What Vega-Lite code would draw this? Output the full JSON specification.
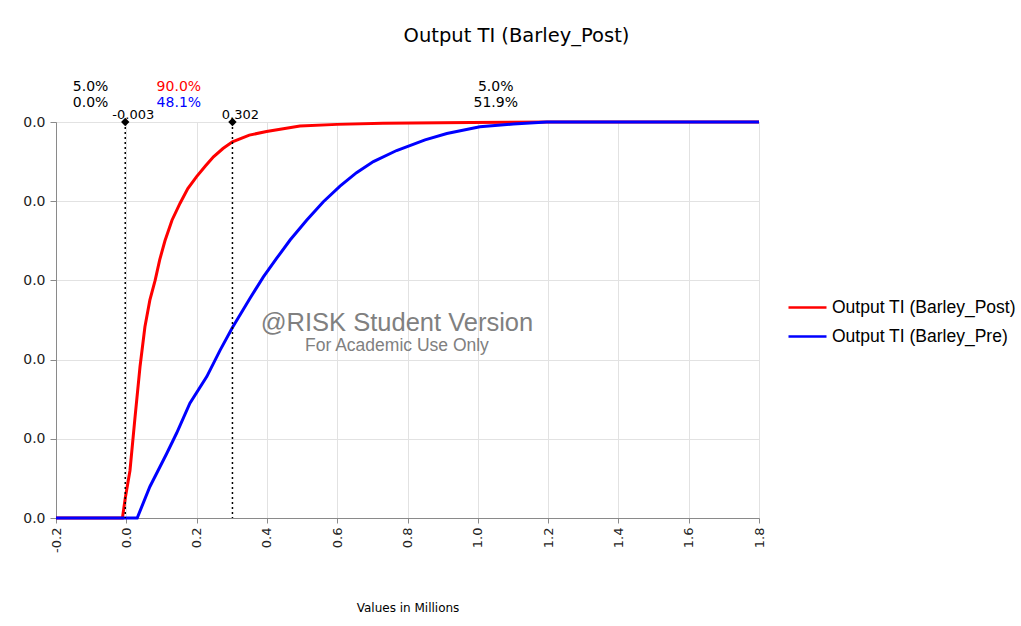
{
  "$schema": "https://vega.github.io/schema/vega-lite/v6.json",
  "width": 703,
  "height": 396,
  "autosize": {"type": "none"},
  "padding": {"left": 56, "top": 122, "right": 262, "bottom": 108},
  "background": "white",
  "title": {"text": "Output TI (Barley_Post)", "font": "DejaVu Sans", "fontSize": 19.5, "fontWeight": "normal", "color": "#000000", "anchor": "middle", "dx": 109, "offset": 34},
  "config": {
    "view": {"stroke": "#a0a0a0"},
    "axis": {"domainColor": "#8a8a8a", "tickColor": "#8a8a8a", "gridColor": "#e2e2e2", "labelFont": "DejaVu Sans", "labelFontSize": 13, "labelColor": "#222222", "titleFont": "DejaVu Sans", "titleFontSize": 12, "titleFontWeight": "normal", "titleColor": "#000000"}
  },
  "datasets": {
    "cdf": [
      {"series": "Output TI (Barley_Post)", "x": -0.2, "p": 0},
      {"series": "Output TI (Barley_Post)", "x": -0.011, "p": 0},
      {"series": "Output TI (Barley_Post)", "x": -0.003, "p": 0.05},
      {"series": "Output TI (Barley_Post)", "x": 0.0105, "p": 0.12},
      {"series": "Output TI (Barley_Post)", "x": 0.025, "p": 0.256},
      {"series": "Output TI (Barley_Post)", "x": 0.039, "p": 0.382},
      {"series": "Output TI (Barley_Post)", "x": 0.053, "p": 0.483},
      {"series": "Output TI (Barley_Post)", "x": 0.067, "p": 0.55},
      {"series": "Output TI (Barley_Post)", "x": 0.082, "p": 0.6},
      {"series": "Output TI (Barley_Post)", "x": 0.095, "p": 0.652},
      {"series": "Output TI (Barley_Post)", "x": 0.11, "p": 0.7},
      {"series": "Output TI (Barley_Post)", "x": 0.13, "p": 0.752},
      {"series": "Output TI (Barley_Post)", "x": 0.153, "p": 0.795},
      {"series": "Output TI (Barley_Post)", "x": 0.175, "p": 0.832},
      {"series": "Output TI (Barley_Post)", "x": 0.2, "p": 0.862},
      {"series": "Output TI (Barley_Post)", "x": 0.225, "p": 0.889},
      {"series": "Output TI (Barley_Post)", "x": 0.248, "p": 0.912},
      {"series": "Output TI (Barley_Post)", "x": 0.275, "p": 0.933},
      {"series": "Output TI (Barley_Post)", "x": 0.302, "p": 0.95},
      {"series": "Output TI (Barley_Post)", "x": 0.35, "p": 0.967},
      {"series": "Output TI (Barley_Post)", "x": 0.399, "p": 0.976},
      {"series": "Output TI (Barley_Post)", "x": 0.494, "p": 0.99},
      {"series": "Output TI (Barley_Post)", "x": 0.6, "p": 0.994},
      {"series": "Output TI (Barley_Post)", "x": 0.73, "p": 0.997},
      {"series": "Output TI (Barley_Post)", "x": 0.98, "p": 0.999},
      {"series": "Output TI (Barley_Post)", "x": 1.2, "p": 1},
      {"series": "Output TI (Barley_Post)", "x": 1.8, "p": 1},
      {"series": "Output TI (Barley_Pre)", "x": -0.2, "p": 0},
      {"series": "Output TI (Barley_Pre)", "x": 0.031, "p": 0},
      {"series": "Output TI (Barley_Pre)", "x": 0.067, "p": 0.079},
      {"series": "Output TI (Barley_Pre)", "x": 0.115, "p": 0.163},
      {"series": "Output TI (Barley_Pre)", "x": 0.143, "p": 0.214},
      {"series": "Output TI (Barley_Pre)", "x": 0.181, "p": 0.29},
      {"series": "Output TI (Barley_Pre)", "x": 0.229, "p": 0.357},
      {"series": "Output TI (Barley_Pre)", "x": 0.267, "p": 0.424},
      {"series": "Output TI (Barley_Pre)", "x": 0.302, "p": 0.481},
      {"series": "Output TI (Barley_Pre)", "x": 0.352, "p": 0.555},
      {"series": "Output TI (Barley_Pre)", "x": 0.39, "p": 0.609},
      {"series": "Output TI (Barley_Pre)", "x": 0.428, "p": 0.656},
      {"series": "Output TI (Barley_Pre)", "x": 0.466, "p": 0.702},
      {"series": "Output TI (Barley_Pre)", "x": 0.513, "p": 0.752},
      {"series": "Output TI (Barley_Pre)", "x": 0.56, "p": 0.798},
      {"series": "Output TI (Barley_Pre)", "x": 0.608, "p": 0.838},
      {"series": "Output TI (Barley_Pre)", "x": 0.655, "p": 0.872},
      {"series": "Output TI (Barley_Pre)", "x": 0.703, "p": 0.9},
      {"series": "Output TI (Barley_Pre)", "x": 0.769, "p": 0.928},
      {"series": "Output TI (Barley_Pre)", "x": 0.85, "p": 0.955},
      {"series": "Output TI (Barley_Pre)", "x": 0.912, "p": 0.971},
      {"series": "Output TI (Barley_Pre)", "x": 1.006, "p": 0.988},
      {"series": "Output TI (Barley_Pre)", "x": 1.101, "p": 0.995},
      {"series": "Output TI (Barley_Pre)", "x": 1.196, "p": 1},
      {"series": "Output TI (Barley_Pre)", "x": 1.8, "p": 1}
    ],
    "markers": [
      {"x": -0.003, "label": "-0.003"},
      {"x": 0.302, "label": "0.302"}
    ],
    "pct": [
      {"x": -0.1015, "row": 1, "kind": "side", "label": "5.0%"},
      {"x": -0.1015, "row": 2, "kind": "side", "label": "0.0%"},
      {"x": 0.1495, "row": 1, "kind": "post", "label": "90.0%"},
      {"x": 0.1495, "row": 2, "kind": "pre", "label": "48.1%"},
      {"x": 1.051, "row": 1, "kind": "side", "label": "5.0%"},
      {"x": 1.051, "row": 2, "kind": "side", "label": "51.9%"}
    ]
  },
  "encoding": {
    "x": {"type": "quantitative", "scale": {"domain": [-0.2, 1.8], "nice": false, "zero": false},
      "axis": {"values": [-0.2, 0, 0.2, 0.4, 0.6, 0.8, 1.0, 1.2, 1.4, 1.6, 1.8], "labelExpr": "replace(format(datum.value, '.1f'), '\u2212', '-')", "labelAngle": 270, "labelAlign": "right", "labelBaseline": "middle", "tickSize": 5, "labelPadding": 4, "title": "Values in Millions", "titlePadding": 50}},
    "y": {"type": "quantitative", "scale": {"domain": [0, 1], "nice": false},
      "axis": {"values": [0, 0.2, 0.4, 0.6, 0.8, 1.0], "labelExpr": "'0.0'", "labelFontSize": 14, "tickSize": 6, "labelPadding": 5, "title": null}}
  },
  "layer": [
    {
      "data": {"name": "cdf"},
      "mark": {"type": "line", "strokeWidth": 3, "clip": false},
      "encoding": {
        "x": {"field": "x"},
        "y": {"field": "p"},
        "color": {"field": "series", "type": "nominal",
          "scale": {"domain": ["Output TI (Barley_Post)", "Output TI (Barley_Pre)"], "range": ["#ff0000", "#0000ff"]},
          "legend": {"title": null, "orient": "none", "legendX": 731, "legendY": 165, "symbolType": "stroke", "symbolSize": 1444, "symbolStrokeWidth": 2.5, "labelFont": "Liberation Sans", "labelFontSize": 17.5, "labelColor": "#000000", "labelOffset": 4, "labelLimit": 400, "rowPadding": -12}}
      }
    },
    {
      "data": {"name": "markers"},
      "mark": {"type": "rule", "color": "#000000", "strokeWidth": 1.5, "strokeDash": [2, 3]},
      "encoding": {"x": {"field": "x"}}
    },
    {
      "data": {"name": "markers"},
      "mark": {"type": "point", "shape": "diamond", "filled": true, "color": "#000000", "size": 70, "opacity": 1},
      "encoding": {"x": {"field": "x"}, "y": {"datum": 1}}
    },
    {
      "data": {"name": "markers"},
      "mark": {"type": "text", "font": "DejaVu Sans", "fontSize": 13, "color": "#000000", "dx": 8, "dy": -7, "baseline": "middle"},
      "encoding": {"x": {"field": "x"}, "y": {"datum": 1}, "text": {"field": "label"}}
    },
    {
      "data": {"name": "pct"},
      "transform": [{"filter": "datum.row === 1"}],
      "mark": {"type": "text", "font": "DejaVu Sans", "fontSize": 14, "dy": -35, "baseline": "middle"},
      "encoding": {"x": {"field": "x"}, "y": {"datum": 1}, "text": {"field": "label"},
        "color": {"field": "kind", "type": "nominal", "scale": {"domain": ["side", "post", "pre"], "range": ["#000000", "#ff0000", "#0000ff"]}, "legend": null}}
    },
    {
      "data": {"name": "pct"},
      "transform": [{"filter": "datum.row === 2"}],
      "mark": {"type": "text", "font": "DejaVu Sans", "fontSize": 14, "dy": -19, "baseline": "middle"},
      "encoding": {"x": {"field": "x"}, "y": {"datum": 1}, "text": {"field": "label"},
        "color": {"field": "kind", "type": "nominal", "scale": {"domain": ["side", "post", "pre"], "range": ["#000000", "#ff0000", "#0000ff"]}, "legend": null}}
    },
    {
      "data": {"values": [{"t": "@RISK Student Version"}]},
      "mark": {"type": "text", "font": "Liberation Sans", "fontSize": 25.5, "color": "#808080", "baseline": "middle"},
      "encoding": {"x": {"datum": 0.77}, "y": {"datum": 0.492}, "text": {"field": "t"}}
    },
    {
      "data": {"values": [{"t": "For Academic Use Only"}]},
      "mark": {"type": "text", "font": "Liberation Sans", "fontSize": 17.5, "color": "#808080", "baseline": "middle"},
      "encoding": {"x": {"datum": 0.77}, "y": {"datum": 0.434}, "text": {"field": "t"}}
    }
  ],
  "resolve": {"scale": {"color": "independent"}}
}
